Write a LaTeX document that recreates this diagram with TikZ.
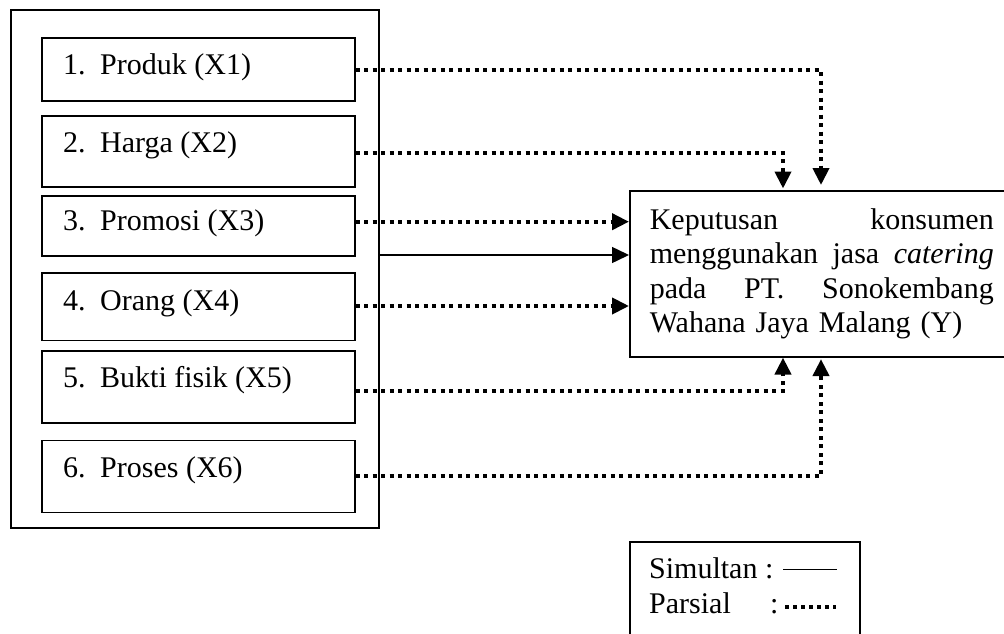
\documentclass[tikz,border=0pt]{standalone}
\usepackage{fontspec}
\setmainfont{Liberation Serif}
\usetikzlibrary{arrows.meta}
\begin{document}
\begin{tikzpicture}[x=1pt,y=-1pt,
  every node/.style={font=\fontsize{30pt}{34.5pt}\selectfont},
  box/.style={draw, line width=1.6pt, inner sep=0pt, anchor=north west, minimum width=313pt},
  lbl/.style={inner sep=0pt, anchor=base west},
  tip/.style={-{Triangle[length=17pt,width=16pt]}},
  part/.style={line width=4pt, dash pattern=on 4pt off 4.5pt, tip},
  simul/.style={line width=1.5pt, tip}]
\useasboundingbox (0,0) rectangle (1004,634);
\clip (0,0) rectangle (1004,634);
% outer group box
\node[draw, line width=2pt, inner sep=0pt, anchor=north west, minimum width=368pt, minimum height=517.5pt] (outer) at (10,9) {};
% variable boxes
\node[box, minimum height=63pt] (b1) at (41,37) {};
\node[box, minimum height=71pt] (b2) at (41,115) {};
\node[box, minimum height=60pt] (b3) at (41,195) {};
\node[box, minimum height=67.5pt] (b4) at (41,272) {};
\node[box, minimum height=72pt] (b5) at (41,350) {};
\node[box, minimum height=72pt] (b6) at (41,439.5) {};
\node[lbl] (t1) at (63,74.3) {\makebox[37pt][l]{1.}Produk (X1)};
\node[lbl] (t2) at (63,152.7) {\makebox[37pt][l]{2.}Harga (X2)};
\node[lbl] (t3) at (63,230) {\makebox[37pt][l]{3.}Promosi (X3)};
\node[lbl] (t4) at (63,310) {\makebox[37pt][l]{4.}Orang (X4)};
\node[lbl] (t5) at (63,387.3) {\makebox[37pt][l]{5.}Bukti fisik (X5)};
\node[lbl] (t6) at (63,477.7) {\makebox[37pt][l]{6.}Proses (X6)};
% dependent variable box
\node[draw, line width=1.6pt, anchor=north west, text width=344pt, inner xsep=20pt, inner ysep=0pt, minimum height=166pt, align=left] (Y) at (629,190)
  {Keputusan\hfill konsumen\\menggunakan\hfill jasa\hfill \textit{catering}\\pada\hfill PT.\hfill Sonokembang\\Wahana Jaya Malang (Y)};
% connectors
\draw[part, shorten >=5pt] (b1.east |- 0,70) -| ([xshift=192pt]Y.north west);
\draw[part, shorten >=1.5pt] (b2.east |- 0,153.3) -| ([xshift=154pt]Y.north west);
\draw[part] (b3.east |- 0,221.7) -- (Y.west |- 0,221.7);
\draw[simul] (outer.east |- 0,255) -- (Y.west |- 0,255);
\draw[part] (b4.east |- 0,306) -- (Y.west |- 0,306);
\draw[part] (b5.east |- 0,391) -| ([xshift=154pt]Y.south west);
\draw[part, shorten >=1.5pt] (b6.east |- 0,475.7) -| ([xshift=192pt]Y.south west);
% legend
\node[draw, line width=1.6pt, inner sep=0pt, anchor=north west, minimum width=230pt, minimum height=120pt] (leg) at (629,541) {};
\node[lbl] (ls) at (649,578) {Simultan :};
\node[lbl] (lp) at (649,613) {\makebox[121pt][l]{Parsial}:};
\coordinate (s1) at (783,569.3);
\coordinate (s2) at (837,569.3);
\coordinate (p1) at (785,607);
\coordinate (p2) at (836,607);
\draw[line width=1.5pt] (s1) -- (s2);
\draw[line width=3.2pt, dash pattern=on 3.5pt off 4.5pt] (p1) -- (p2);
\end{tikzpicture}
\end{document}
